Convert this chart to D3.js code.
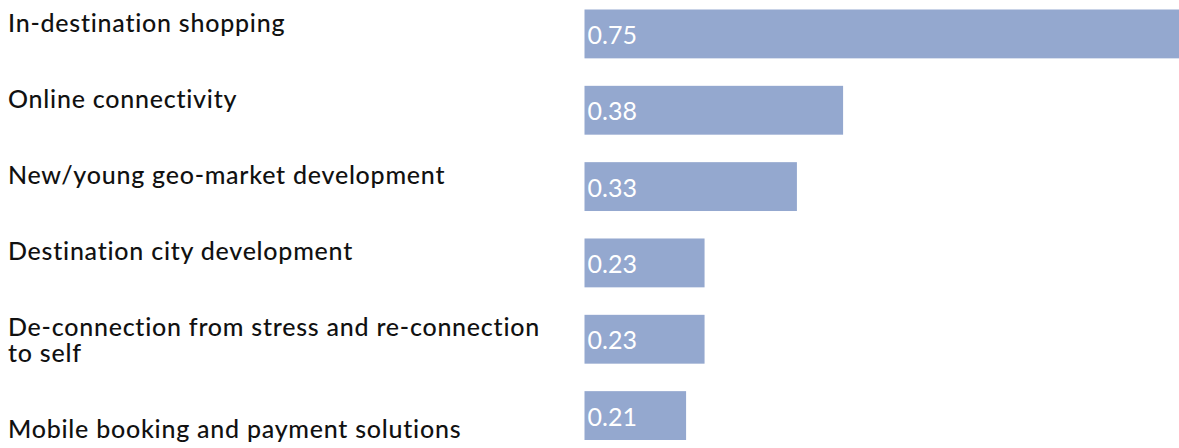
<!DOCTYPE html>
<html>
<head>
<meta charset="utf-8">
<script src="https://cdn.jsdelivr.net/npm/d3@7"></script>
<style>
  html, body { margin: 0; padding: 0; background: #ffffff; }
  svg { display: block; }
  text { font-family: Lato, "Open Sans", sans-serif; }
</style>
</head>
<body>
<svg id="chart" width="1179" height="448"></svg>
<script>
// Drivers and their scores
const categories = [
  "In-destination shopping",
  "Online connectivity",
  "New/young geo-market development",
  "Destination city development",
  "De-connection from stress and re-connection to self",
  "Mobile booking and payment solutions"
];
const values = [0.75, 0.38, 0.33, 0.23, 0.23, 0.21];
const valueLabels = ["0.75", "0.38", "0.33", "0.23", "0.23", "0.21"];

const width = 1179, height = 448;
const svg = d3.select("#chart");

const x = d3.scaleLinear().domain([0.1, 0.75]).range([584.5, 1184.8]);
const y = d3.scaleBand().domain(categories).range([9.5, 440]).paddingInner(0.36).paddingOuter(0);

// Bars
svg.append("g").selectAll("rect")
  .data(categories)
  .join("rect")
  .attr("x", x(0.1))
  .attr("y", d => y(d))
  .attr("width", (d, i) => x(values[i]) - x(0.1))
  .attr("height", y.bandwidth())
  .attr("fill", "#94a8cf");

// Value labels inside the bars
svg.append("g").selectAll("text")
  .data(categories)
  .join("text")
  .attr("x", x(0.1) + 3)
  .attr("y", d => y(d) + 34.5)
  .attr("fill", "#ffffff")
  .style("font-size", "25px")
  .text((d, i) => valueLabels[i]);

// Category labels: wrapped to a max width and stacked with equal gaps
const labelG = svg.append("g");
const maxW = 555, lineH = 26, gap = 50;
let cursor = 32;
categories.forEach(cat => {
  const t = labelG.append("text")
    .attr("x", 8)
    .attr("y", cursor)
    .attr("fill", "#111111")
    .style("font-size", "25px")
    .style("font-weight", 500)
    .style("letter-spacing", "0.76px");
  const words = cat.split(" ");
  let line = [];
  let tspan = t.append("tspan").attr("x", 8).attr("y", cursor);
  let lines = 1;
  words.forEach(w => {
    line.push(w);
    tspan.text(line.join(" "));
    if (tspan.node().getComputedTextLength() > maxW && line.length > 1) {
      line.pop();
      tspan.text(line.join(" "));
      line = [w];
      tspan = t.append("tspan").attr("x", 8).attr("y", cursor + lines * lineH).text(w);
      lines++;
    }
  });
  cursor += lines * lineH + gap;
});
</script>
</body>
</html>
